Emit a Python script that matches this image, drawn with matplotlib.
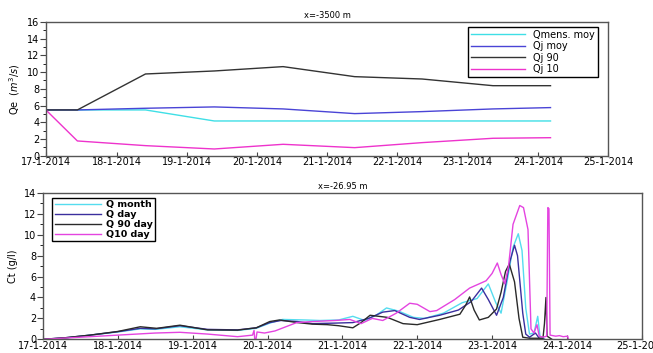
import matplotlib
matplotlib.use('Agg')
import matplotlib.pyplot as plt
from matplotlib.ticker import MultipleLocator

# x values are days counted from 17-1-2014
day_labels = ['17-1-2014', '18-1-2014', '19-1-2014', '20-1-2014', '21-1-2014',
              '22-1-2014', '23-1-2014', '24-1-2014', '25-1-2014']

# --- upstream section x=-3500 m, discharge
t_qe = [0, 0.44, 1.41, 2.39, 3.37, 4.39, 5.35, 6.36, 7.18]
q_mens = [5.47, 5.47, 5.47, 4.15, 4.15, 4.15, 4.15, 4.15, 4.15]
qj_moy = [5.47, 5.47, 5.67, 5.83, 5.59, 5.03, 5.27, 5.59, 5.75]
qj_90 = [5.47, 5.47, 9.77, 10.13, 10.65, 9.45, 9.17, 8.37, 8.37]
qj_10 = [5.4, 1.76, 1.2, 0.8, 1.36, 0.96, 1.56, 2.08, 2.15]

# --- section x=-26.95 m, salinity
t_month = [0, 0.3, 0.63, 1.0, 1.3, 1.5, 1.83, 2.2, 2.6, 2.85, 3.03, 3.2, 3.5, 3.7,
           3.95, 4.14, 4.3, 4.45, 4.59, 4.75, 4.95, 5.1, 5.35, 5.6, 5.8, 5.95,
           6.05, 6.12, 6.2, 6.28, 6.35, 6.4, 6.45, 6.5, 6.56, 6.61, 6.64, 6.7]
ct_month = [0, 0.12, 0.4, 0.7, 1.0, 0.95, 1.2, 0.9, 0.85, 1.05, 1.55, 1.9, 1.85, 1.8,
            1.85, 2.2, 1.8, 2.3, 3.0, 2.7, 2.1, 2.0, 2.5, 3.5, 3.9, 5.3,
            3.5, 2.5, 5.5, 8.8, 10.1, 8.5, 3.0, 0.5, 0.6, 2.2, 0.3, 0.0]

t_day = [0, 0.3, 0.63, 1.0, 1.3, 1.5, 1.83, 2.2, 2.6, 2.85, 3.03, 3.18, 3.4, 3.6,
         3.9, 4.14, 4.35, 4.54, 4.7, 4.9, 5.03, 5.3, 5.55, 5.72, 5.86, 5.95,
         6.06, 6.15, 6.24, 6.3, 6.34, 6.41, 6.45, 6.5, 6.58, 6.63, 6.7]
ct_day = [0, 0.15, 0.4, 0.73, 1.05, 1.0, 1.3, 0.95, 0.9, 1.1, 1.6, 1.8, 1.7, 1.5,
          1.55, 1.6, 2.0, 2.6, 2.75, 2.1, 1.9, 2.3, 2.8, 3.6, 4.9, 3.8,
          2.3, 4.0, 7.5, 9.0, 8.0, 2.5, 0.5, 0.2, 0.6, 0.1, 0.0]

t_90 = [0, 0.3, 0.63, 1.0, 1.3, 1.52, 1.83, 2.2, 2.6, 2.85, 3.03, 3.16, 3.4, 3.6,
        3.8, 3.95, 4.14, 4.25, 4.37, 4.6, 4.81, 5.0, 5.3, 5.57, 5.65, 5.7, 5.76,
        5.83, 5.95, 6.06, 6.12, 6.18, 6.23, 6.3, 6.36, 6.41, 6.5, 6.68, 6.7,
        6.72, 6.735, 6.8]
ct_90 = [0, 0.15, 0.4, 0.75, 1.2, 1.05, 1.35, 0.9, 0.88, 1.1, 1.7, 1.85, 1.6, 1.45,
         1.4, 1.3, 1.1, 1.6, 2.3, 2.1, 1.5, 1.4, 1.9, 2.4, 3.3, 4.05, 2.8,
         1.85, 2.1, 2.9, 4.5, 6.5, 7.2, 5.5, 2.0, 0.2, 0.1, 0.1, 1.5,
         4.0, 0.3, 0.0]

t_10 = [0, 0.5, 1.0, 1.5, 1.83, 2.2, 2.6, 2.8, 2.82, 2.835, 2.86, 2.96, 3.1, 3.39,
        3.6, 3.9, 4.1, 4.25, 4.4, 4.54, 4.72, 4.9, 5.0, 5.17, 5.26, 5.5, 5.7,
        5.92, 6.0, 6.07, 6.12, 6.17, 6.22, 6.28, 6.37, 6.42, 6.48, 6.52, 6.56,
        6.6, 6.63, 6.68, 6.73, 6.745, 6.76, 6.775, 6.85, 6.9, 6.95, 7.01, 7.02]
ct_10 = [0, 0.2, 0.4, 0.6, 0.67, 0.5, 0.25, 0.4, 0.85, -0.5, 0.7, 0.6, 0.8, 1.6,
         1.7, 1.8, 1.9, 1.5, 2.0, 1.8, 2.5, 3.45, 3.35, 2.65, 2.75, 3.8, 4.9,
         5.6, 6.3, 7.3, 6.2, 5.3, 7.0, 11.0, 12.8, 12.6, 10.5, 1.0, 0.6,
         1.4, 0.3, 0.2, 0.3, 12.6, 12.5, 0.4, 0.3, 0.35, 0.25, 0.3, 0.0]

fig = plt.figure(figsize=(6.53, 3.53), dpi=100)
ax1 = fig.add_axes([0.0712, 0.559, 0.860, 0.379])
ax2 = fig.add_axes([0.0658, 0.0388, 0.917, 0.4145])

ax1.plot(t_qe, q_mens, color='#3fdfe6', lw=1, label='Qmens. moy')
ax1.plot(t_qe, qj_moy, color='#4a44d6', lw=1, label='Qj moy')
ax1.plot(t_qe, qj_90, color='#333333', lw=1, label='Qj 90')
ax1.plot(t_qe, qj_10, color='#ee33cc', lw=1, label='Qj 10')
ax1.set_ylim(0, 16)
ax1.set_ylabel(r'Qe  $(m^3/s)$', fontsize=7)
ax1.set_title('x=-3500 m', fontsize=6, pad=3)
ax1.legend(loc='upper right', bbox_to_anchor=(0.99, 1.0), fontsize=7,
           handlelength=5.6, fancybox=False, edgecolor='black',
           framealpha=1, borderpad=0.3, labelspacing=0.15)

ax2.plot(t_month, ct_month, color='#55dcef', lw=1, label='Q month')
ax2.plot(t_day, ct_day, color='#3b2f9e', lw=1, label='Q day')
ax2.plot(t_90, ct_90, color='#2a2a2a', lw=1, label='Q 90 day')
ax2.plot(t_10, ct_10, color='#e444e0', lw=1, label='Q10 day')
ax2.set_ylim(0, 14)
ax2.set_ylabel('Ct (g/l)', fontsize=7)
ax2.set_title('x=-26.95 m', fontsize=6, pad=3)
ax2.legend(loc='upper left', bbox_to_anchor=(0.008, 1.0),
           prop={'size': 6.8, 'weight': 'bold'}, handlelength=4.9,
           handletextpad=0.5, fancybox=False, edgecolor='black',
           framealpha=1, borderpad=0.25, labelspacing=0.1)

for ax in (ax1, ax2):
    ax.set_xlim(0, 8)
    ax.set_xticks(range(len(day_labels)))
    ax.set_xticklabels(day_labels)
    ax.yaxis.set_major_locator(MultipleLocator(2))
    ax.yaxis.set_minor_locator(MultipleLocator(1))
    ax.tick_params(axis='both', labelsize=7, pad=1, color='#444444')
    ax.tick_params(axis='x', direction='in', length=3)
    ax.tick_params(axis='y', which='major', direction='out', length=4)
    ax.tick_params(axis='y', which='minor', direction='out', length=2)
    for s in ax.spines.values():
        s.set_color('#555555')
        s.set_linewidth(1)

fig.savefig('out.png', dpi=100)
